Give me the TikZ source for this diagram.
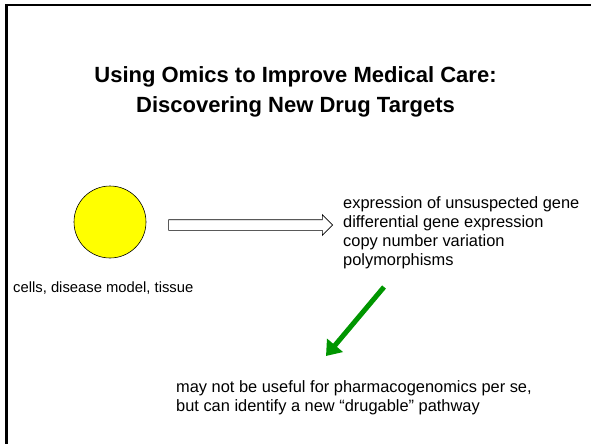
\documentclass[tikz,border=0pt]{standalone}
\usepackage{fontspec}
\setmainfont{Liberation Sans}
\usetikzlibrary{arrows.meta,shapes.arrows}
\definecolor{cellyellow}{RGB}{255,255,0}
\definecolor{arrowgreen}{RGB}{0,150,0}

\begin{document}
\begin{tikzpicture}[x=1pt,y=-1pt,
    cell/.style={draw,circle,minimum size=72pt,inner sep=0pt,fill=cellyellow,line width=0.6pt},
    flow/.style={draw,single arrow,single arrow head extend=5pt,minimum height=164pt,inner xsep=0pt,inner ysep=5pt,line width=0.6pt,fill=white},
    item/.style={inner sep=0pt,anchor=base west,font=\fontsize{16.4}{19}\selectfont},
    lead/.style={draw=arrowgreen,line width=5pt,-{Triangle[length=14pt,width=20pt]}}]
  \useasboundingbox (0,0) rectangle (591,444);
  \pgfmathsetmacro{\gap}{19}
  % frame: top and left edge only
  \draw[line width=2.3pt] (591,5) -- (6.5,5) -- (6.5,444);
  \node[inner sep=0pt,align=center,font=\bfseries\fontsize{22}{30}\selectfont] (title) at (295.5,92)
    {Using Omics to Improve Medical Care:\\Discovering New Drug Targets};
  \node[cell] (cells) at (110,222) {};
  \node[item,font=\fontsize{14.8}{18}\selectfont] (source) at (13,292) {cells, disease model, tissue};
  \node[flow] (flow) at (248,225) {};
  \foreach \k/\txt in {0/expression of unsuspected gene, 1/differential gene expression,
                       2/copy number variation, 3/polymorphisms} {
    \node[item] (finding\k) at (343,{208+\k*\gap}) {\txt};
  }
  \coordinate (leadtail) at (384,287);
  \coordinate (leadtip) at (326,356);
  \draw[lead] (leadtail) -- (leadtip);
  \foreach \k/\txt in {0/{may not be useful for pharmacogenomics per se,},
                       1/{but can identify a new “drugable” pathway}} {
    \node[item] (note\k) at (176,{392+\k*\gap}) {\txt};
  }
\end{tikzpicture}
\end{document}
